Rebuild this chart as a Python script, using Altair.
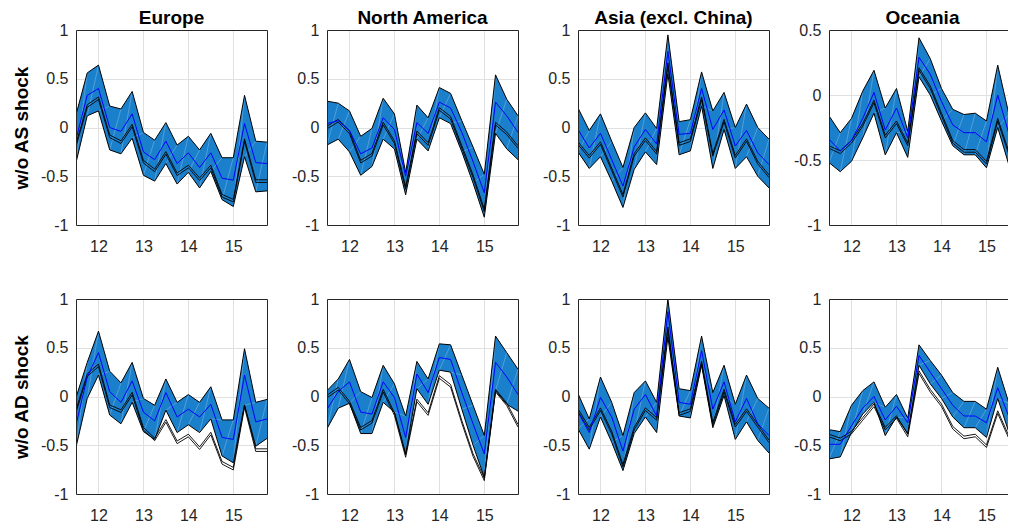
import altair as alt
import pandas as pd

quarters = [11.5, 11.75, 12.0, 12.25, 12.5, 12.75, 13.0, 13.25, 13.5,
            13.75, 14.0, 14.25, 14.5, 14.75, 15.0, 15.25, 15.5, 15.75]
regions = ["Europe", "North America", "Asia (excl. China)", "Oceania"]
shocks = ["w/o AS shock", "w/o AD shock"]
x_ticks = [12, 13, 14, 15]

# ---- w/o AS shock ----
eu_as_upper = [0.13, 0.56, 0.64, 0.22, 0.19, 0.37, -0.05, -0.13, 0.05, -0.18, -0.09, -0.23, -0.06, -0.31, -0.31, 0.33, -0.14, -0.15]
eu_as_median = [-0.12, 0.33, 0.40, 0.00, -0.04, 0.14, -0.25, -0.33, -0.14, -0.37, -0.26, -0.41, -0.26, -0.52, -0.54, 0.04, -0.36, -0.37]
eu_as_actual = [-0.18, 0.22, 0.30, -0.09, -0.15, 0.02, -0.35, -0.44, -0.26, -0.48, -0.40, -0.53, -0.40, -0.70, -0.75, -0.13, -0.55, -0.55]
eu_as_lower = [-0.36, 0.12, 0.17, -0.23, -0.27, -0.11, -0.49, -0.55, -0.37, -0.58, -0.46, -0.62, -0.45, -0.74, -0.81, -0.30, -0.66, -0.65]

na_as_upper = [0.27, 0.25, 0.17, -0.09, -0.01, 0.30, 0.14, -0.46, 0.23, 0.10, 0.41, 0.35, 0.07, -0.20, -0.48, 0.54, 0.29, 0.12]
na_as_median = [0.04, 0.07, -0.03, -0.27, -0.21, 0.10, -0.02, -0.50, 0.05, -0.06, 0.26, 0.20, -0.05, -0.35, -0.67, 0.26, 0.12, -0.05]
na_as_actual = [0.00, 0.07, -0.05, -0.35, -0.28, 0.04, -0.15, -0.62, -0.05, -0.17, 0.19, 0.10, -0.20, -0.50, -0.85, 0.04, -0.06, -0.20]
na_as_lower = [-0.18, -0.12, -0.25, -0.49, -0.40, -0.12, -0.22, -0.69, -0.12, -0.24, 0.10, 0.04, -0.25, -0.57, -0.92, -0.06, -0.22, -0.33]

as_as_upper = [0.20, -0.03, 0.14, -0.14, -0.41, 0.00, 0.15, -0.01, 0.95, 0.06, 0.08, 0.57, 0.17, 0.36, 0.00, 0.24, 0.00, -0.12]
as_as_median = [-0.02, -0.21, -0.06, -0.33, -0.60, -0.20, -0.02, -0.17, 0.78, -0.07, -0.06, 0.40, -0.02, 0.18, -0.19, -0.03, -0.26, -0.38]
as_as_actual = [-0.16, -0.30, -0.16, -0.43, -0.70, -0.28, -0.12, -0.26, 0.65, -0.17, -0.13, 0.30, -0.28, 0.07, -0.30, -0.13, -0.36, -0.50]
as_as_lower = [-0.25, -0.42, -0.30, -0.55, -0.82, -0.43, -0.25, -0.38, 0.55, -0.28, -0.24, 0.22, -0.42, -0.02, -0.42, -0.30, -0.50, -0.62]

oc_as_upper = [-0.16, -0.29, -0.18, 0.03, 0.19, -0.10, 0.05, -0.28, 0.44, 0.28, 0.05, -0.11, -0.15, -0.14, -0.20, 0.23, -0.15, -0.15]
oc_as_median = [-0.34, -0.43, -0.35, -0.18, 0.02, -0.27, -0.10, -0.33, 0.29, 0.16, -0.05, -0.23, -0.29, -0.29, -0.36, 0.00, -0.30, -0.30]
oc_as_actual = [-0.40, -0.44, -0.36, -0.23, -0.05, -0.32, -0.21, -0.38, 0.20, 0.06, -0.15, -0.36, -0.43, -0.43, -0.52, -0.19, -0.45, -0.47]
oc_as_lower = [-0.52, -0.59, -0.51, -0.33, -0.14, -0.46, -0.29, -0.48, 0.14, 0.00, -0.20, -0.39, -0.46, -0.46, -0.56, -0.25, -0.54, -0.52]

# ---- w/o AD shock ----
eu_ad_upper = [-0.01, 0.35, 0.67, 0.26, 0.14, 0.35, -0.02, -0.09, 0.18, -0.06, 0.02, -0.06, 0.10, -0.24, -0.24, 0.49, -0.06, -0.03]
eu_ad_median = [-0.29, 0.20, 0.45, 0.05, -0.06, 0.16, -0.16, -0.25, 0.04, -0.21, -0.13, -0.21, -0.08, -0.42, -0.44, 0.22, -0.26, -0.23]
eu_ad_actual = [-0.15, 0.22, 0.32, -0.10, -0.15, 0.03, -0.33, -0.44, -0.25, -0.47, -0.40, -0.53, -0.38, -0.68, -0.74, -0.10, -0.55, -0.55]
eu_ad_lower = [-0.52, -0.02, 0.22, -0.19, -0.28, -0.06, -0.36, -0.44, -0.14, -0.37, -0.29, -0.37, -0.23, -0.61, -0.68, -0.09, -0.51, -0.43]

na_ad_upper = [0.06, 0.18, 0.38, 0.05, -0.01, 0.32, 0.13, -0.20, 0.36, 0.18, 0.54, 0.53, 0.22, -0.09, -0.40, 0.62, 0.45, 0.28]
na_ad_median = [-0.13, 0.05, 0.15, -0.16, -0.18, 0.15, -0.01, -0.42, 0.23, 0.04, 0.40, 0.38, 0.04, -0.28, -0.59, 0.35, 0.20, 0.02]
na_ad_actual = [0.00, 0.08, -0.06, -0.33, -0.26, 0.06, -0.18, -0.61, -0.04, -0.18, 0.20, 0.11, -0.26, -0.60, -0.85, 0.06, -0.08, -0.30]
na_ad_lower = [-0.33, -0.12, -0.07, -0.38, -0.38, -0.06, -0.16, -0.59, 0.08, -0.08, 0.27, 0.25, -0.13, -0.50, -0.83, 0.06, -0.08, -0.15]

as_ad_upper = [0.03, -0.23, 0.20, -0.06, -0.40, 0.04, 0.16, -0.06, 1.00, 0.08, 0.06, 0.62, 0.04, 0.32, -0.08, 0.22, -0.02, -0.12]
as_ad_median = [-0.16, -0.37, -0.01, -0.21, -0.56, -0.13, 0.02, -0.20, 0.87, -0.06, -0.08, 0.47, -0.13, 0.15, -0.26, -0.02, -0.28, -0.40]
as_ad_actual = [-0.14, -0.33, -0.13, -0.37, -0.71, -0.33, -0.13, -0.23, 0.70, -0.18, -0.14, 0.35, -0.28, 0.06, -0.30, -0.14, -0.30, -0.46]
as_ad_lower = [-0.33, -0.54, -0.21, -0.47, -0.76, -0.38, -0.21, -0.37, 0.61, -0.20, -0.22, 0.32, -0.32, 0.01, -0.44, -0.26, -0.45, -0.58]

oc_ad_upper = [-0.34, -0.36, -0.09, 0.06, 0.15, -0.11, 0.02, -0.22, 0.53, 0.37, 0.22, 0.04, -0.05, -0.05, -0.13, 0.30, -0.07, -0.08]
oc_ad_median = [-0.49, -0.49, -0.30, -0.12, 0.00, -0.24, -0.10, -0.27, 0.42, 0.25, 0.08, -0.09, -0.20, -0.20, -0.27, 0.09, -0.21, -0.21]
oc_ad_actual = [-0.40, -0.44, -0.37, -0.23, -0.09, -0.33, -0.21, -0.40, 0.25, 0.06, -0.09, -0.32, -0.42, -0.40, -0.51, -0.16, -0.42, -0.45]
oc_ad_lower = [-0.64, -0.62, -0.37, -0.18, -0.06, -0.40, -0.21, -0.38, 0.32, 0.13, -0.02, -0.21, -0.32, -0.32, -0.42, -0.02, -0.37, -0.35]

panels_data = [
    [(eu_as_upper, eu_as_median, eu_as_actual, eu_as_lower),
     (na_as_upper, na_as_median, na_as_actual, na_as_lower),
     (as_as_upper, as_as_median, as_as_actual, as_as_lower),
     (oc_as_upper, oc_as_median, oc_as_actual, oc_as_lower)],
    [(eu_ad_upper, eu_ad_median, eu_ad_actual, eu_ad_lower),
     (na_ad_upper, na_ad_median, na_ad_actual, na_ad_lower),
     (as_ad_upper, as_ad_median, as_ad_actual, as_ad_lower),
     (oc_ad_upper, oc_ad_median, oc_ad_actual, oc_ad_lower)],
]

BAND = "#1a80cc"
FRAME = "#262626"
FONT = "Liberation Sans"


def make_panel(row, col):
    upper, median, actual, lower = panels_data[row][col]
    last = col == 3
    xmax = 15.656 if last else 15.75
    width = 187 if last else 191
    if row == 0 and last:
        ydom, yvals = [-1, 0.5], [-1, -0.5, 0, 0.5]
    else:
        ydom, yvals = [-1, 1], [-1, -0.5, 0, 0.5, 1]

    df = pd.DataFrame({
        "q": quarters,
        "upper": upper,
        "median": median,
        "actual": actual,
        "lower": lower,
        "q_next": quarters[1:] + [None],
        "upper_next": upper[1:] + [None],
    })
    xs = alt.Scale(domain=[11.5, xmax], nice=False, zero=False)
    ys = alt.Scale(domain=ydom, nice=False, zero=False)

    base = alt.Chart(df)

    band = base.mark_area(color=BAND, clip=True).encode(
        x=alt.X("q:Q", scale=xs, axis=alt.Axis(
            values=x_ticks, grid=True, domain=False, ticks=False, title=None,
            labelExpr="toString(datum.value)", labelPadding=13, zindex=0)),
        y=alt.Y("lower:Q", scale=ys, axis=alt.Axis(
            values=yvals, grid=True, domain=False, ticks=False,
            title=shocks[row] if col == 0 else None,
            labelExpr="toString(datum.value)", labelPadding=8, zindex=0)),
        y2="upper:Q",
    )

    diag = base.mark_rule(color="white", opacity=0.3, strokeWidth=0.8, clip=True).encode(
        x=alt.X("q:Q", scale=xs, axis=None),
        x2="q_next:Q",
        y=alt.Y("lower:Q", scale=ys, axis=None),
        y2="upper_next:Q",
    ).transform_filter("isValid(datum.q_next)")

    upper_line = base.mark_line(color="black", strokeWidth=1, clip=True).encode(
        x=alt.X("q:Q", scale=xs, axis=alt.Axis(
            orient="bottom", domain=True, grid=False, labels=False, ticks=False,
            title=None, zindex=1, minExtent=0, maxExtent=0)),
        y=alt.Y("upper:Q", scale=ys, axis=alt.Axis(
            orient="left", domain=True, grid=False, labels=False, ticks=False,
            title=None, zindex=1, minExtent=0, maxExtent=0)),
    )

    lower_line = base.mark_line(color="black", strokeWidth=1, clip=True).encode(
        x=alt.X("q:Q", scale=xs, axis=alt.Axis(
            orient="top", domain=True, grid=False, labels=False, ticks=False,
            title=None, zindex=1, minExtent=0, maxExtent=0)),
        y=alt.Y("lower:Q", scale=ys, axis=None if last else alt.Axis(
            orient="right", domain=True, grid=False, labels=False, ticks=False,
            title=None, zindex=1, minExtent=0, maxExtent=0)),
    )

    act_a = base.mark_line(color="black", strokeWidth=0.9, yOffset=-1.3, clip=True).encode(
        x=alt.X("q:Q", scale=xs, axis=None),
        y=alt.Y("actual:Q", scale=ys, axis=None),
    )
    act_b = base.mark_line(color="black", strokeWidth=0.9, yOffset=1.3, clip=True).encode(
        x=alt.X("q:Q", scale=xs, axis=None),
        y=alt.Y("actual:Q", scale=ys, axis=None),
    )
    med = base.mark_line(color="#0000ff", strokeWidth=1, clip=True).encode(
        x=alt.X("q:Q", scale=xs, axis=None),
        y=alt.Y("median:Q", scale=ys, axis=None),
    )

    layer = alt.layer(band, diag, upper_line, lower_line, act_a, act_b, med).resolve_axis(
        x="independent", y="independent"
    ).properties(width=width, height=195)
    if row == 0:
        layer = layer.properties(title=alt.TitleParams(
            regions[col], fontSize=19, fontWeight="bold", font=FONT,
            color="black", offset=-6, frame="group"))
    return layer


panels = [make_panel(r, c) for r in range(2) for c in range(4)]

chart = alt.concat(*panels, columns=4, spacing={"row": 74, "column": 60},
                   bounds="flush").properties(
    padding={"left": 4, "top": 1, "right": -8, "bottom": 0}
).configure_view(stroke=None).configure_axis(
    labelFont=FONT, labelFontSize=16, labelColor=FRAME,
    titleFont=FONT, titleFontSize=19, titleFontWeight="bold", titleColor="black",
    titlePadding=9, gridColor="#e0e0e0", gridWidth=1,
    domainColor=FRAME, domainWidth=1,
)

chart.save("out.html", embed_options={"renderer": "svg", "actions": False})
